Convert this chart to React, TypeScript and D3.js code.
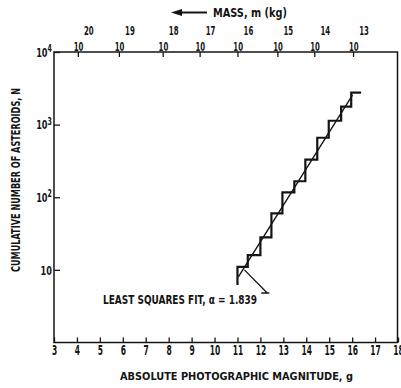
import React, { useRef, useEffect } from 'react';
import * as d3 from 'd3';

const W = 401;
const H = 388;
const FONT = '"DejaVu Sans Condensed", "Liberation Sans Narrow", "DejaVu Sans", sans-serif';
const INK = '#141414';

// bottom axis: absolute photographic magnitude, g
const magTicks = [3, 4, 5, 6, 7, 8, 9, 10, 11, 12, 13, 14, 15, 16, 17, 18];
// left axis: cumulative number of asteroids, N
const countTicks = [10, 100, 1000, 10000];
// top axis: mass decades (exponent) and the magnitude each one sits over
const massExp = [20, 19, 18, 17, 16, 15, 14, 13];
const massAtMag = [4.04, 5.83, 7.74, 9.35, 11.0, 12.74, 14.35, 16.04];

// cumulative counts, drawn as a step curve
const stepMag = [11.0, 11.0, 11.45, 12.0, 12.48, 12.96, 13.48, 13.96, 14.48, 14.98, 15.52, 15.96, 16.39];
const stepN = [6.2, 11, 16, 28, 60, 117, 166, 330, 660, 1130, 1770, 2750, 2750];

// least squares fit, end points
const fitMag = [11.04, 16.02];
const fitN = [8.0, 2570];

// pointer from the label to the fit line
const leaderMag = [12.04, 12.39, 12.3, 11.3];
const leaderN = [4.8, 4.8, 4.8, 10];

const fitLabel = 'LEAST SQUARES FIT, \u03b1 = 1.839';

const Chart = () => {
    const svgRef = useRef<SVGSVGElement>(null);

    useEffect(() => {
        const svg = d3.select(svgRef.current);
        svg.selectAll('*').remove();

        const x = d3.scaleLinear().domain([3, 18]).range([54, 398]);
        const y = d3.scaleLog().domain([1, 10000]).range([342.5, 52]);
        const top = y(10000), bottom = y(1), left = x(3), right = 397.5;

        svg.append('rect').attr('width', W).attr('height', H).attr('fill', '#fff');

        // bottom axis, ticks pointing in
        const gx = svg.append('g')
            .attr('transform', `translate(0,${bottom})`)
            .call(d3.axisBottom(x).tickValues(magTicks).tickFormat(d3.format('d'))
                .tickSizeInner(-5).tickSizeOuter(0).tickPadding(3));
        gx.select('.domain').remove();
        gx.selectAll('line').attr('stroke', INK).attr('stroke-width', 1.3);
        gx.selectAll('text')
            .attr('font-family', FONT).attr('font-weight', 'bold').attr('font-size', 13.5)
            .attr('fill', INK).attr('transform', 'scale(0.62,1)');

        // left axis, log decades
        const gy = svg.append('g')
            .attr('transform', `translate(${left},0)`)
            .call(d3.axisLeft(y).tickValues(countTicks).tickFormat(() => '')
                .tickSizeInner(-6).tickSizeOuter(0).tickPadding(3));
        gy.select('.domain').remove();
        gy.selectAll('line').attr('stroke', INK).attr('stroke-width', 1.3);
        gy.selectAll<SVGTextElement, number>('text')
            .attr('font-family', FONT).attr('font-weight', 'bold').attr('font-size', 13)
            .attr('fill', INK).attr('transform', 'scale(0.7,1)')
            .each(function (d) {
                const t = d3.select(this);
                const e = Math.round(Math.log10(d));
                t.text('10');
                if (e > 1) t.append('tspan').attr('dy', '-0.45em').attr('font-size', 10).text(String(e));
            });

        // top axis: mass
        const gt = svg.append('g')
            .attr('transform', `translate(0,${top})`)
            .call(d3.axisTop(x).tickValues(massAtMag).tickFormat(() => '')
                .tickSizeInner(-5).tickSizeOuter(0).tickPadding(1.5));
        gt.select('.domain').remove();
        gt.selectAll('line').attr('stroke', INK).attr('stroke-width', 1.3);
        gt.selectAll<SVGTextElement, number>('text')
            .attr('font-family', FONT).attr('font-weight', 'bold').attr('font-size', 12.5)
            .attr('fill', INK).attr('text-anchor', 'start').attr('x', -7.5)
            .attr('transform', 'scale(0.62,1)')
            .each(function (d, i) {
                const t = d3.select(this);
                t.text('10');
                t.append('tspan').attr('dy', -15.5).attr('dx', 1).text(String(massExp[i]));
            });

        // frame
        svg.append('path')
            .attr('d', `M${left},${top}H${right}V${bottom}H${left}Z`)
            .attr('fill', 'none').attr('stroke', INK).attr('stroke-width', 1.5);

        // step curve
        const stepPts: [number, number][] = stepMag.map((g, i) => [x(g), y(stepN[i])]);
        svg.append('path')
            .attr('d', d3.line().curve(d3.curveStepAfter)(stepPts))
            .attr('fill', 'none').attr('stroke', INK).attr('stroke-width', 2.2)
            .attr('stroke-linejoin', 'miter');

        // fit line
        const fitPts: [number, number][] = fitMag.map((g, i) => [x(g), y(fitN[i])]);
        svg.append('path')
            .attr('d', d3.line()(fitPts))
            .attr('fill', 'none').attr('stroke', INK).attr('stroke-width', 1.4);

        // leader
        const lp: [number, number][] = leaderMag.map((g, i) => [x(g), y(leaderN[i])]);
        svg.append('path')
            .attr('d', `M${lp[0][0]},${lp[0][1]}L${lp[1][0]},${lp[1][1]}M${lp[2][0]},${lp[2][1]}L${lp[3][0]},${lp[3][1]}`)
            .attr('fill', 'none').attr('stroke', INK).attr('stroke-width', 1.3);

        svg.append('text')
            .attr('x', 103).attr('y', 304)
            .attr('font-family', FONT).attr('font-weight', 'bold').attr('font-size', 12)
            .attr('fill', INK)
            .attr('textLength', 154).attr('lengthAdjust', 'spacingAndGlyphs')
            .text(fitLabel);

        // axis titles
        svg.append('text')
            .attr('x', 236.5).attr('y', 379.5).attr('text-anchor', 'middle')
            .attr('font-family', FONT).attr('font-weight', 'bold').attr('font-size', 11)
            .attr('fill', INK)
            .attr('textLength', 233).attr('lengthAdjust', 'spacingAndGlyphs')
            .text('ABSOLUTE PHOTOGRAPHIC MAGNITUDE, g');

        svg.append('text')
            .attr('transform', 'translate(19.5,180) rotate(-90)')
            .attr('text-anchor', 'middle')
            .attr('font-family', FONT).attr('font-weight', 'bold').attr('font-size', 12)
            .attr('fill', INK)
            .attr('textLength', 184).attr('lengthAdjust', 'spacingAndGlyphs')
            .text('CUMULATIVE NUMBER OF ASTEROIDS, N');

        // mass title with arrow
        svg.append('line')
            .attr('x1', 178).attr('x2', 207).attr('y1', 12.5).attr('y2', 12.5)
            .attr('stroke', INK).attr('stroke-width', 2);
        svg.append('path')
            .attr('d', 'M171,12.5L182,9L182,16Z')
            .attr('fill', INK);
        svg.append('text')
            .attr('x', 213).attr('y', 17)
            .attr('font-family', FONT).attr('font-weight', 'bold').attr('font-size', 12)
            .attr('fill', INK)
            .attr('textLength', 74).attr('lengthAdjust', 'spacingAndGlyphs')
            .text('MASS, m (kg)');
    }, []);

    return (
        <svg ref={svgRef} width={W} height={H}
            style={{ position: 'absolute', left: 0, top: 0, display: 'block' }} />
    );
};

export default function App() {
    return <Chart />;
}
